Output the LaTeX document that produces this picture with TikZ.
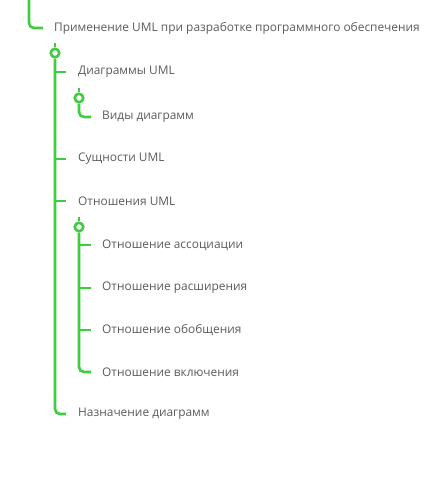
\documentclass[tikz,border=0pt]{standalone}
\usepackage{fontspec}
\setmainfont{Open Sans}
\definecolor{lgreen}{RGB}{64,204,64}
\definecolor{ltext}{RGB}{95,90,90}
\tikzset{
  conn/.style={draw=lgreen, line width=2.6pt, rounded corners=5pt},
  knob/.style={circle, draw=lgreen, fill=white, line width=2.6pt, minimum size=8.5pt, inner sep=0pt},
  lbl/.style={anchor=west, text=ltext, font=\fontsize{11.9}{14}\selectfont, inner sep=0pt}
}
\begin{document}
\begin{tikzpicture}[x=1pt,y=-1pt]
\useasboundingbox (0,0) rectangle (437,481);
% root
\node[lbl] (root) at (54,28) {Применение UML при разработке программного обеспечения};
\coordinate (rt) at (29,-2);
\draw[conn] (rt) |- ([xshift=-11pt]root.west);
% level 1
\coordinate (k1top) at (55,43);
\node[knob] (k1) at (55,53) {};
\node[lbl] (a) at (78,72) {Диаграммы UML};
\node[lbl] (b) at (78,159) {Сущности UML};
\node[lbl] (c) at (78,201) {Отношения UML};
\node[lbl] (d) at (78,414) {Назначение диаграмм};
\draw[conn] (k1top) -- (k1.north);
\draw[conn] (k1.south) |- ([xshift=-12pt]d.west);
\foreach \n in {a,b,c} \draw[conn] (k1.south |- \n.west) -- ([xshift=-12pt]\n.west);
% sub 1
\coordinate (k2top) at (79,88);
\node[knob] (k2) at (79,98) {};
\node[lbl] (a1) at (102,117) {Виды диаграмм};
\draw[conn] (k2top) -- (k2.north);
\draw[conn] (k2.south) |- ([xshift=-11pt]a1.west);
% sub 2
\coordinate (k3top) at (79,217);
\node[knob] (k3) at (79,227) {};
\node[lbl] (c1) at (102,245) {Отношение ассоциации};
\node[lbl] (c2) at (102,288) {Отношение расширения};
\node[lbl] (c3) at (102,330) {Отношение обобщения};
\node[lbl] (c4) at (102,372) {Отношение включения};
\draw[conn] (k3top) -- (k3.north);
\draw[conn] (k3.south) |- ([xshift=-11pt]c4.west);
\foreach \n in {c1,c2,c3} \draw[conn] (k3.south |- \n.west) -- ([xshift=-11pt]\n.west);
\end{tikzpicture}
\end{document}
